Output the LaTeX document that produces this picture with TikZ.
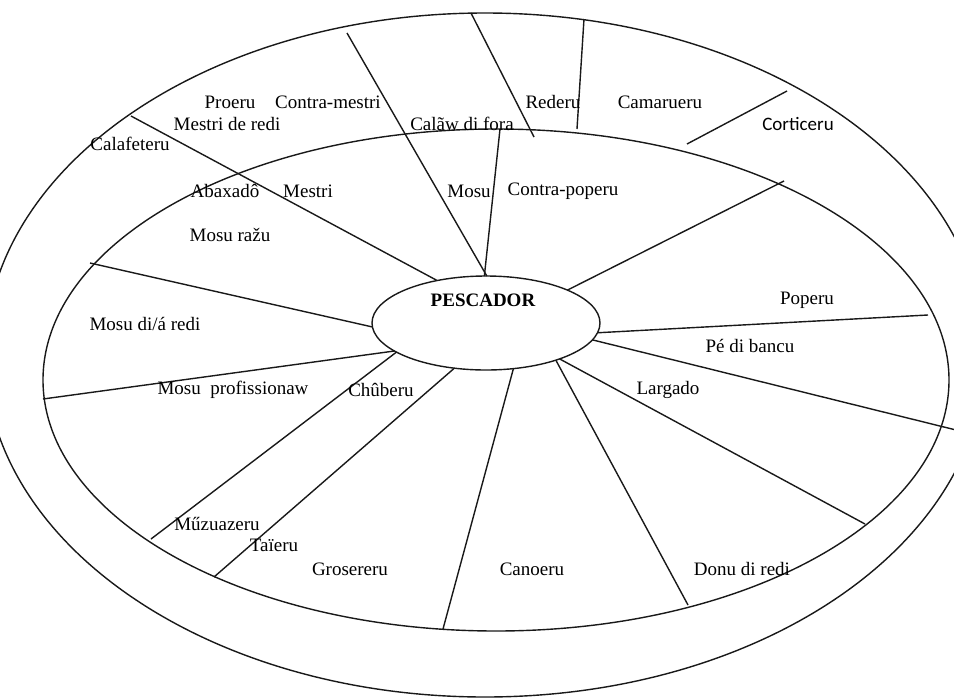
\documentclass[tikz,border=0pt]{standalone}
\usepackage{fontspec}
\setmainfont{Liberation Serif}
\newfontfamily\calib{Carlito}
\usetikzlibrary{shapes.geometric}
\begin{document}
\begin{tikzpicture}[x=1pt,y=-1pt,
  ln/.style={line width=1.4pt, black!90},
  ring/.style={draw=black!90, line width=1.4pt, ellipse, inner sep=0pt, outer sep=0pt},
  lbl/.style={font=\fontsize{19}{22}\selectfont, inner sep=0pt}]
\useasboundingbox (0,0) rectangle (954,697);
\fill[white] (0,0) rectangle (954,697);
\begin{scope}
\clip (0,0) rectangle (954,697);
\node[ring, minimum width=1000pt, minimum height=684pt] (outer) at (485,355) {};
\node[ring, minimum width=906pt, minimum height=502pt] (inner) at (496,380) {};
\node[ring, minimum width=228pt, minimum height=94pt] (pesc) at (486,323) {};

% outer / inner end points
\coordinate (e1) at (131,116);
\coordinate (e2) at (347,33);
\coordinate (e3) at (500,129);
\coordinate (e4) at (784,181);
\coordinate (e5) at (928,315);
\coordinate (e6) at (956,430);
\coordinate (e7) at (865,524);
\coordinate (e8) at (688,605);
\coordinate (e9) at (443,629);
\coordinate (e10) at (214,577);
\coordinate (e11) at (151,539);
\coordinate (e12) at (43,399);
\coordinate (e13) at (90,263);
\coordinate (r1) at (471,13);  \coordinate (r2) at (534,137);
\coordinate (c1) at (584,19);  \coordinate (c2) at (577,129);
\coordinate (k1) at (787,91);  \coordinate (k2) at (687,144);

\draw[ln] (pesc.139) -- (e1);
\draw[ln] (pesc.89) -- (e2);
\draw[ln] (pesc.92) -- (e3);
\draw[ln] (pesc.22) -- (e4);
\draw[ln] (pesc.-5) -- (e5);
\draw[ln] (pesc.-9.5) -- (e6);
\draw[ln] (pesc.-26) -- (e7);
\draw[ln] (pesc.-28) -- (e8);
\draw[ln] (pesc.-59) -- (e9);
\draw[ln] (pesc.-125.6) -- (e10);
\draw[ln] (pesc.-162) -- (e11);
\draw[ln] (pesc.-163) -- (e12);
\draw[ln] (pesc.-178) -- (e13);
\draw[ln] (r1) -- (r2);
\draw[ln] (c1) -- (c2);
\draw[ln] (k1) -- (k2);
\end{scope}

\node[lbl, font=\fontsize{19}{22}\selectfont\bfseries] (tpesc) at (483,300) {PESCADOR};
\node[lbl] (l1) at (230,102) {Proeru};
\node[lbl] (l2) at (328,102) {Contra-mestri};
\node[lbl] (l3) at (227,124) {Mestri de redi};
\node[lbl] (l4) at (130,144) {Calafeteru};
\node[lbl] (l5) at (462,124) {Calãw di fora};
\node[lbl] (l6) at (553,102) {Rederu};
\node[lbl] (l7) at (660,102) {Camarueru};
\node[lbl, font=\fontsize{19}{22}\selectfont\calib] (l8) at (798,124) {Corticeru};
\node[lbl] (l9) at (225,191) {Abaxadô};
\node[lbl] (l10) at (308,191) {Mestri};
\node[lbl] (l11) at (469,191) {Mosu};
\node[lbl] (l12) at (563,191) {Contra-poperu};
\node[lbl] (l13) at (230,235) {Mosu ražu};
\node[lbl] (l14) at (807,300) {Poperu};
\node[lbl] (l15) at (145,324) {Mosu di/á redi};
\node[lbl] (l16) at (750,346) {Pé di bancu};
\node[lbl] (l17) at (233,390) {Mosu\ \ profissionaw};
\node[lbl] (l18) at (381,390) {Chûberu};
\node[lbl] (l19) at (668,390) {Largado};
\node[lbl] (l20) at (217,524) {Műzuazeru};
\node[lbl] (l21) at (274,545) {Taïeru};
\node[lbl] (l22) at (350,569) {Grosereru};
\node[lbl] (l23) at (532,569) {Canoeru};
\node[lbl] (l24) at (742,569) {Donu di redi};
\end{tikzpicture}
\end{document}
